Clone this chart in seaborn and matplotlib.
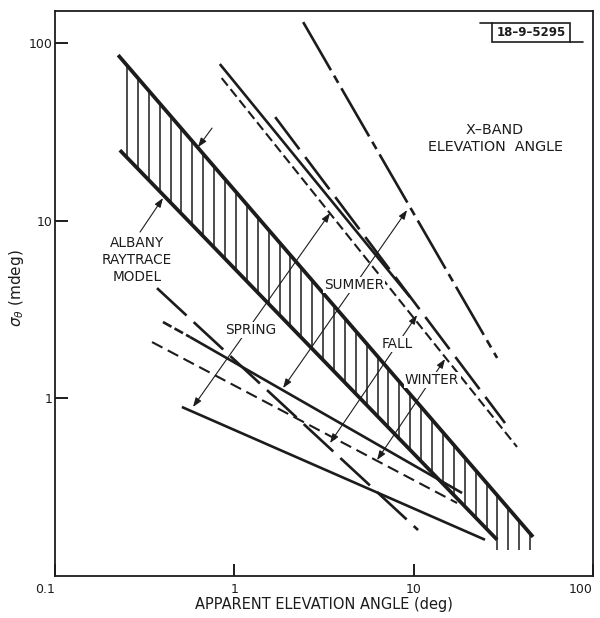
import numpy as np
import pandas as pd
import matplotlib
matplotlib.use("Agg")
import matplotlib.pyplot as plt
from matplotlib.ticker import NullLocator, FixedLocator, FixedFormatter
from matplotlib.patches import Rectangle
from matplotlib.lines import Line2D
import seaborn as sns

# ---------------- data ----------------
# Albany raytrace model band (power-law boundaries)
band_upper_x = [0.225, 46.3]
band_upper_y = [85.8, 0.166]
band_lower_x = [0.230, 29.2]
band_lower_y = [25.0, 0.160]
hatch_x_range = [0.252, 44.6]
hatch_count = 38
hatch_floor = 0.14

# upper group of measured curves
line_a_x = [2.42, 29.2];   line_a_y = [131.6, 1.69]    # dash-dot
line_b_x = [0.83, 9.55];   line_b_y = [76.4, 3.72]     # solid
line_c_x = [0.85, 37.7];   line_c_y = [63.7, 0.533]    # short dash
line_d_x = [1.69, 32.3];   line_d_y = [38.4, 0.727]    # long dash

# lower group of measured curves
line_e_x = [0.51, 25.0];    line_e_y = [0.895, 0.160]   # solid
line_f_x = [0.3475, 17.46]; line_f_y = [2.077, 0.2576]  # dashed
line_g1_x = [0.400, 0.566]; line_g1_y = [2.693, 2.217]  # dashed start
line_g2_x = [0.566, 18.62]; line_g2_y = [2.217, 0.2934] # solid
line_h_x = [0.3705, 10.58]; line_h_y = [4.18, 0.1815]   # long dash

# season labels and their range arrows
seasons = ["SPRING", "SUMMER", "FALL", "WINTER"]
season_label_x = [1.239, 4.65, 8.08, 12.66]
season_label_y = [2.427, 4.35, 2.024, 1.269]
season_arrow_x0 = [0.588, 1.869, 3.418, 6.25]
season_arrow_y0 = [0.895, 1.144, 0.561, 0.4498]
season_arrow_x1 = [3.418, 9.19, 10.45, 14.96]
season_arrow_y1 = [11.07, 11.5, 2.948, 1.666]

model_label = "ALBANY\nRAYTRACE\nMODEL"
model_label_xy = [0.2867, 6.02]
model_arrow_from = [[0.298, 8.65], [0.751, 33.3]]
model_arrow_to = [[0.400, 13.44], [0.627, 26.0]]

x_ticks = [0.1, 1, 10, 100]
x_tick_labels = ["0.1", "1", "10", "100"]
y_ticks = [1, 10, 100]
y_tick_labels = ["1", "10", "100"]

# ---------------- styling ----------------
sns.set_style("ticks")
plt.rcParams['font.family'] = ['DejaVu Sans']
plt.rcParams['lines.scale_dashes'] = False
ink = "#1c1c1c"

fig = plt.figure(figsize=(6, 6.18), dpi=100)
fig.patch.set_facecolor("white")
ax = fig.add_axes([55/600, 1-576/618, 538/600, 565/618])
ax.set_xscale("log")
ax.set_yscale("log")
ax.set_xlim(0.1, 100)
ax.set_ylim(0.1, 152)


def draw(xs, ys, lw, ls, z=3):
    d = pd.DataFrame({"x": xs, "y": ys})
    sns.lineplot(data=d, x="x", y="y", ax=ax, color=ink, lw=lw,
                 linestyle=ls, sort=False, estimator=None, legend=False,
                 zorder=z, solid_capstyle="butt", dash_capstyle="butt")


# band boundaries
draw(band_upper_x, band_upper_y, 2.7, "-")
draw(band_lower_x, band_lower_y, 2.7, "-")

# hatch inside band
hx = np.geomspace(hatch_x_range[0], hatch_x_range[1], hatch_count)
lu = np.interp(np.log10(hx), np.log10(band_upper_x), np.log10(band_upper_y))
ll = np.interp(np.log10(hx), np.log10(band_lower_x), np.log10(band_lower_y))
lower = np.where(hx <= band_lower_x[1], 10**ll, hatch_floor)
ax.vlines(hx, lower, 10**lu, color=ink, lw=1.1, zorder=2)

# upper group
draw(line_a_x, line_a_y, 1.9, (0, (40, 4.5, 6, 4.5)))
draw(line_b_x, line_b_y, 1.9, "-")
draw(line_c_x, line_c_y, 1.5, (0, (7, 3.2)))
draw(line_d_x, line_d_y, 1.9, (0, (29, 7)))

# lower group
draw(line_e_x, line_e_y, 1.9, "-")
draw(line_f_x, line_f_y, 1.5, (0, (8.5, 4.3)))
draw(line_g1_x, line_g1_y, 1.9, (0, (7, 2.5)))
draw(line_g2_x, line_g2_y, 1.9, "-")
draw(line_h_x, line_h_y, 1.9, (0, (29, 7)))

# season arrows and labels
for name, lx, ly, x0, y0, x1, y1 in zip(seasons, season_label_x, season_label_y,
                                         season_arrow_x0, season_arrow_y0,
                                         season_arrow_x1, season_arrow_y1):
    ax.annotate("", xy=(x1, y1), xytext=(x0, y0),
                arrowprops=dict(arrowstyle="<|-|>,head_length=0.55,head_width=0.2",
                                color=ink, lw=0.8, shrinkA=0, shrinkB=0,
                                mutation_scale=10), zorder=4)
    ax.text(lx, ly, name, ha="center", va="center", fontsize=9.8, color=ink,
            zorder=6, bbox=dict(boxstyle="square,pad=0.1", fc="white", ec="none"))

# model label and arrows
ax.text(model_label_xy[0], model_label_xy[1], model_label, ha="center",
        va="center", fontsize=9.8, color=ink, linespacing=1.3, zorder=6,
        bbox=dict(boxstyle="square,pad=0.1", fc="white", ec="none"))
for (fx, fy), (tx, ty) in zip(model_arrow_from, model_arrow_to):
    ax.annotate("", xy=(tx, ty), xytext=(fx, fy),
                arrowprops=dict(arrowstyle="-|>,head_length=0.55,head_width=0.2",
                                color=ink, lw=0.8, shrinkA=0, shrinkB=0,
                                mutation_scale=10), zorder=4)

# annotation texts
ax.text(0.818, 0.774, "X\u2013BAND\nELEVATION  ANGLE", transform=ax.transAxes,
        ha="center", va="center", fontsize=10.3, color=ink, linespacing=1.25)

ax.add_patch(Rectangle((0.8123, 0.9451), 0.145, 0.0337, transform=ax.transAxes,
                       fill=False, ec=ink, lw=1.2, zorder=5))
ax.text(0.885, 0.9619, "18\u20139\u20135295", transform=ax.transAxes, ha="center",
        va="center", fontsize=8.5, fontweight="bold", color=ink)
ax.add_line(Line2D([0.790, 0.8123], [0.9788, 0.9788], transform=ax.transAxes,
                   color=ink, lw=1.2))
ax.add_line(Line2D([0.9573, 0.981], [0.9451, 0.9451], transform=ax.transAxes,
                   color=ink, lw=1.2))

# axes, ticks
for s in ax.spines.values():
    s.set_linewidth(1.3)
    s.set_color(ink)
ax.xaxis.set_major_locator(FixedLocator(x_ticks))
ax.xaxis.set_major_formatter(FixedFormatter(x_tick_labels))
ax.yaxis.set_major_locator(FixedLocator(y_ticks))
ax.yaxis.set_major_formatter(FixedFormatter(y_tick_labels))
ax.xaxis.set_minor_locator(NullLocator())
ax.yaxis.set_minor_locator(NullLocator())
ax.tick_params(axis="both", direction="in", length=9, width=1.4, color=ink,
               labelsize=9, labelcolor=ink)
ax.tick_params(axis="x", pad=5)
ax.tick_params(axis="y", pad=2)
xl = ax.get_xticklabels()
xl[0].set_ha("right")
xl[-1].set_ha("right")

ax.set_xlabel("APPARENT ELEVATION ANGLE (deg)", fontsize=10.5, color=ink, labelpad=1)
ax.set_ylabel("")
fig.text(17/600, 1 - 288/618, r"$\sigma_\theta$ (mdeg)", rotation=90,
         ha="center", va="center", fontsize=11, color=ink)

fig.savefig("out.png", dpi=100, facecolor="white")
